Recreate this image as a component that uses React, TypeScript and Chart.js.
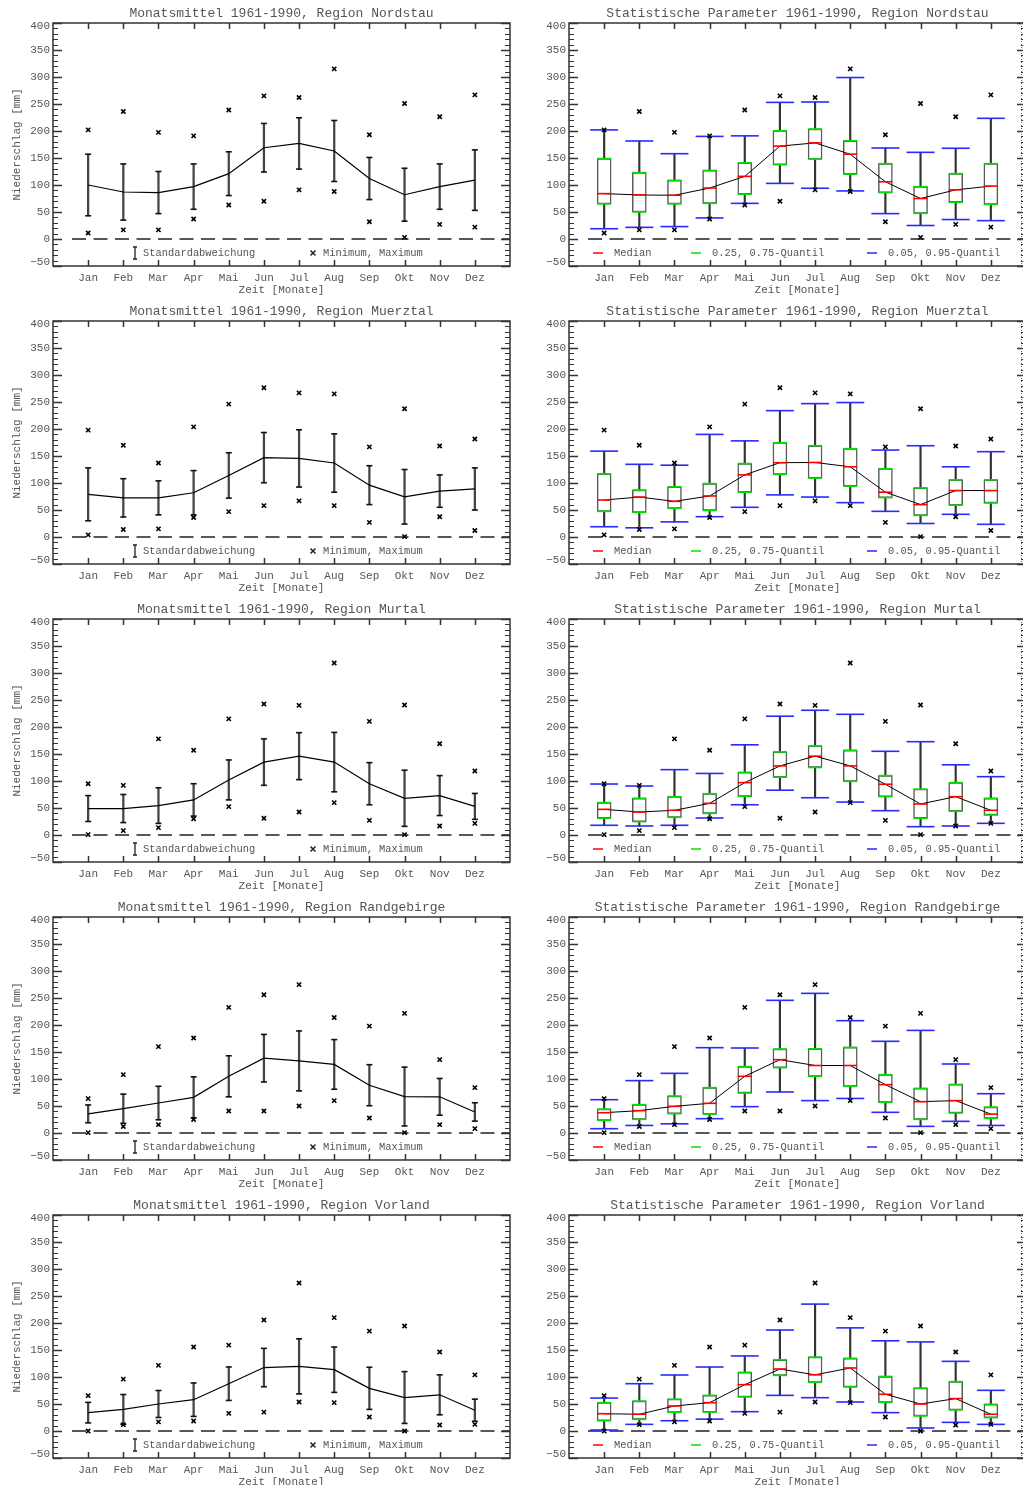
import React, { useEffect, useRef } from 'react';
import { Chart, registerables } from 'chart.js';

Chart.register(...registerables);

const MONTHS = ['Jan', 'Feb', 'Mar', 'Apr', 'Mai', 'Jun', 'Jul', 'Aug', 'Sep', 'Okt', 'Nov', 'Dez'];
const Y_TICKS = [-50, 0, 50, 100, 150, 200, 250, 300, 350, 400];

// ---------- Region Nordstau ----------
const NORDSTAU_MEAN = [100, 87, 86, 97, 121, 169, 177, 163, 112, 82, 97, 109];
const NORDSTAU_SD = [57, 52, 39, 42, 40.5, 45, 47.5, 56.5, 39, 49, 42, 56];
const NORDSTAU_MIN = [11, 17, 17, 37, 63, 70, 91, 88, 32, 3, 27, 22];
const NORDSTAU_MAX = [202, 236, 197.5, 191, 239, 265, 262, 315, 193, 251, 226.5, 267];
const NORDSTAU_P05 = [19, 21.6, 23, 39, 66, 103, 94, 89, 47, 25, 36, 34];
const NORDSTAU_Q25 = [65, 50, 65, 66, 83, 137.6, 148, 120, 86, 47.5, 68, 64];
const NORDSTAU_MED = [84, 81.5, 81, 94.4, 116, 172, 178, 157, 106, 75, 91, 98];
const NORDSTAU_Q75 = [149, 123, 108.6, 127, 141, 200.6, 203.7, 182, 139.5, 97, 121, 139.5];
const NORDSTAU_P95 = [202, 181.5, 158, 190, 191, 253, 253.7, 299, 168.5, 160.5, 168, 223.5];

// ---------- Region Muerztal ----------
const MUERZTAL_MEAN = [79, 72.5, 72.5, 82, 114, 147, 145.5, 137, 96, 74.5, 85, 89];
const MUERZTAL_SD = [49, 35.5, 31.5, 41, 42, 46.5, 53, 54, 36, 50.5, 30, 39];
const MUERZTAL_MIN = [4, 14, 15, 36, 47, 58, 67, 58, 27, 0.6, 37.6, 12];
const MUERZTAL_MAX = [198, 170, 137, 204, 246, 276.5, 267, 265, 167, 237.6, 168.5, 181.5];
const MUERZTAL_P05 = [19, 17, 28, 37.6, 55, 78, 74, 63.6, 47.5, 25, 42, 23.5];
const MUERZTAL_Q25 = [47.5, 45.7, 53, 49, 83, 116, 109, 94, 73, 40, 59, 63];
const MUERZTAL_MED = [68.5, 74, 66, 76, 115, 137.6, 138, 130, 83, 60, 86, 86];
const MUERZTAL_Q75 = [117, 87, 93, 99, 136, 174.7, 169, 163.6, 126.5, 91, 106, 106];
const MUERZTAL_P95 = [159, 134.6, 133, 190, 178, 234, 247, 249, 161, 169, 130, 158];

// ---------- Region Murtal ----------
const MURTAL_MEAN = [49, 49, 54.5, 65, 102, 135, 146, 135, 95, 68, 73, 53];
const MURTAL_SD = [24, 26, 33, 30, 37, 43, 43.5, 55, 39, 52, 37, 24];
const MURTAL_MIN = [0.6, 8, 13.6, 30, 52.5, 31, 42.6, 60, 27, 0.6, 16.7, 21.6];
const MURTAL_MAX = [95, 92, 178, 157, 215, 242.6, 240, 318.5, 210.5, 240.7, 169, 118.5];
const MURTAL_P05 = [18, 16.7, 18, 31.5, 56, 83, 69, 61, 45, 15.4, 16.7, 21.6];
const MURTAL_Q25 = [31, 24.7, 32.7, 40, 71.6, 107, 125, 99.4, 71, 31, 44, 37];
const MURTAL_MED = [47.5, 42.6, 45.7, 58.6, 97, 128, 146, 128, 94, 57.4, 71, 45.7];
const MURTAL_Q75 = [60, 68, 71, 76.5, 116, 154, 165, 157, 110, 85, 97, 68];
const MURTAL_P95 = [94.4, 90.7, 121, 114, 167, 220, 231, 223.5, 155, 172.8, 130, 108];

// ---------- Region Randgebirge ----------
const RAND_MEAN = [35.5, 45, 55.5, 66, 105, 138.5, 133.5, 127, 88.5, 67.5, 67, 39];
const RAND_SD = [16.5, 27, 31, 38, 38, 44, 55.5, 46, 38, 54.5, 34, 17];
const RAND_MIN = [0.6, 12, 15.4, 25, 40.7, 40.7, 50, 60, 27.8, 0.6, 15.4, 8];
const RAND_MAX = [63.6, 108, 160, 176, 232.7, 256, 274.7, 214, 198, 221.6, 135.8, 84];
const RAND_P05 = [8, 14, 17, 26.5, 48.8, 76, 60, 64, 38.3, 12.3, 21.6, 14];
const RAND_Q25 = [23.5, 25.3, 35.8, 35, 74, 121, 105, 86.4, 56.8, 25.3, 37, 27];
const RAND_MED = [37.6, 41.4, 49.4, 55, 105, 135.8, 125, 125, 89.5, 58, 60, 35];
const RAND_Q75 = [44.4, 52.5, 68.5, 84, 123, 155.6, 156, 158.6, 108, 82.7, 90, 48];
const RAND_P95 = [61.7, 97, 110.5, 158, 157.4, 245.7, 258.6, 208, 169.8, 190, 127.8, 72.8];

// ---------- Region Vorland ----------
const VORLAND_MEAN = [34, 40, 50, 58, 87.6, 117.5, 119.7, 113.5, 79, 62, 67, 38.5];
const VORLAND_SD = [19, 27.5, 25, 31, 31, 35.5, 51, 42, 39, 48, 37, 20.5];
const VORLAND_MIN = [0, 11.7, 17, 18.5, 32.7, 35, 53.7, 52.5, 26, 0, 11, 12.3];
const VORLAND_MAX = [65.4, 96, 121.6, 155.6, 159, 205.5, 274, 210, 185, 194.4, 146.3, 104];
const VORLAND_P05 = [1.8, 12.3, 19, 22, 35.8, 66, 61.7, 53.7, 34, 5.6, 16, 12.3];
const VORLAND_Q25 = [19, 21.6, 34.6, 35, 63, 103, 90, 81.5, 53, 27.8, 39, 24.7];
const VORLAND_MED = [32, 31, 46.3, 52.5, 85.8, 114.8, 104, 116.7, 68, 50, 60, 31];
const VORLAND_Q75 = [52.5, 55.5, 59, 66, 108.6, 132, 137, 134.6, 101, 79.6, 91.4, 49.4];
const VORLAND_P95 = [61, 87.6, 103.7, 118.5, 139, 187, 235, 191, 167, 165, 129, 75.3];

const REGIONS = [
  { name: 'Nordstau', mean: NORDSTAU_MEAN, sd: NORDSTAU_SD, min: NORDSTAU_MIN, max: NORDSTAU_MAX, p05: NORDSTAU_P05, q25: NORDSTAU_Q25, med: NORDSTAU_MED, q75: NORDSTAU_Q75, p95: NORDSTAU_P95 },
  { name: 'Muerztal', mean: MUERZTAL_MEAN, sd: MUERZTAL_SD, min: MUERZTAL_MIN, max: MUERZTAL_MAX, p05: MUERZTAL_P05, q25: MUERZTAL_Q25, med: MUERZTAL_MED, q75: MUERZTAL_Q75, p95: MUERZTAL_P95 },
  { name: 'Murtal', mean: MURTAL_MEAN, sd: MURTAL_SD, min: MURTAL_MIN, max: MURTAL_MAX, p05: MURTAL_P05, q25: MURTAL_Q25, med: MURTAL_MED, q75: MURTAL_Q75, p95: MURTAL_P95 },
  { name: 'Randgebirge', mean: RAND_MEAN, sd: RAND_SD, min: RAND_MIN, max: RAND_MAX, p05: RAND_P05, q25: RAND_Q25, med: RAND_MED, q75: RAND_Q75, p95: RAND_P95 },
  { name: 'Vorland', mean: VORLAND_MEAN, sd: VORLAND_SD, min: VORLAND_MIN, max: VORLAND_MAX, p05: VORLAND_P05, q25: VORLAND_Q25, med: VORLAND_MED, q75: VORLAND_Q75, p95: VORLAND_P95 },
];

const FONT = "'Liberation Mono', 'DejaVu Sans Mono', monospace";
const TEXT = '#555555';
const ROW_H = 298;

const pts = (arr: number[]) => arr.map((v, i) => ({ x: i + 1, y: v }));

function framePlugin(title: string, isStat: boolean) {
  return {
    id: 'frame',
    beforeDatasetsDraw(chart: any) {
      const { ctx, chartArea: a, scales } = chart;
      const y0 = scales.y.getPixelForValue(0);
      ctx.save();
      ctx.strokeStyle = '#222';
      ctx.lineWidth = 1.5;
      ctx.setLineDash([14, 7.5]);
      ctx.beginPath();
      ctx.moveTo(a.left + 19, y0);
      ctx.lineTo(a.right, y0);
      ctx.stroke();
      ctx.restore();
    },
    afterDatasetsDraw(chart: any) {
      const { ctx, chartArea: a, scales } = chart;
      const x = scales.x;
      const y = scales.y;
      ctx.save();
      // frame
      ctx.strokeStyle = '#333';
      ctx.lineWidth = 1.5;
      ctx.strokeRect(a.left, a.top, a.right - a.left, a.bottom - a.top);
      // y ticks (inward, both sides)
      for (let v = -50; v <= 400; v += 10) {
        const py = Math.round(y.getPixelForValue(v)) + 0.5;
        const major = v % 50 === 0;
        const len = major ? 9 : 5;
        ctx.lineWidth = major ? 1.5 : 1;
        ctx.beginPath();
        ctx.moveTo(a.left, py);
        ctx.lineTo(a.left + len, py);
        ctx.moveTo(a.right, py);
        ctx.lineTo(a.right - len, py);
        ctx.stroke();
      }
      // x ticks (inward, top and bottom)
      ctx.lineWidth = 1.5;
      ctx.beginPath();
      for (let m = 1; m <= 12; m++) {
        const px = Math.round(x.getPixelForValue(m)) + 0.5;
        ctx.moveTo(px, a.bottom);
        ctx.lineTo(px, a.bottom - 6);
        ctx.moveTo(px, a.top);
        ctx.lineTo(px, a.top + 6);
      }
      ctx.stroke();

      // y tick labels (end labels kept inside the frame)
      ctx.fillStyle = TEXT;
      ctx.font = `11px ${FONT}`;
      ctx.textAlign = 'right';
      ctx.textBaseline = 'middle';
      for (const v of Y_TICKS) {
        const py = Math.min(Math.max(y.getPixelForValue(v), a.top + 3), a.bottom - 3.5);
        ctx.fillText(String(v).replace('-', '\u2212'), a.left - 3, py);
      }

      // title
      ctx.font = `13px ${FONT}`;
      ctx.textAlign = 'center';
      ctx.fillText(title, (a.left + a.right) / 2, 14);

      // legend
      const ly = 253;
      ctx.font = `10.4px ${FONT}`;
      ctx.textAlign = 'left';
      ctx.textBaseline = 'middle';
      if (!isStat) {
        ctx.strokeStyle = '#222';
        ctx.lineWidth = 1.3;
        ctx.beginPath();
        ctx.moveTo(135, ly - 6);
        ctx.lineTo(135, ly + 6);
        ctx.moveTo(133, ly - 6);
        ctx.lineTo(137, ly - 6);
        ctx.moveTo(133, ly + 6);
        ctx.lineTo(137, ly + 6);
        ctx.stroke();
        ctx.fillText('Standardabweichung', 143, ly);
        ctx.lineWidth = 1.5;
        ctx.beginPath();
        ctx.moveTo(310.5, ly - 2.5);
        ctx.lineTo(315.5, ly + 2.5);
        ctx.moveTo(315.5, ly - 2.5);
        ctx.lineTo(310.5, ly + 2.5);
        ctx.stroke();
        ctx.fillText('Minimum, Maximum', 323, ly);
      } else {
        const items = [
          { c: '#ff0000', x: 81, t: 'Median', tx: 102 },
          { c: '#00e000', x: 179, t: '0.25, 0.75-Quantil', tx: 200 },
          { c: '#2a2aff', x: 355, t: '0.05, 0.95-Quantil', tx: 376 },
        ];
        for (const it of items) {
          ctx.strokeStyle = it.c;
          ctx.lineWidth = 1.5;
          ctx.beginPath();
          ctx.moveTo(it.x, ly);
          ctx.lineTo(it.x + 10, ly);
          ctx.stroke();
          ctx.fillStyle = TEXT;
          ctx.fillText(it.t, it.tx, ly);
        }
        // dotted edge line
        ctx.strokeStyle = '#666';
        ctx.lineWidth = 1;
        ctx.setLineDash([1, 2]);
        ctx.beginPath();
        ctx.moveTo(509.5, a.top);
        ctx.lineTo(509.5, a.bottom);
        ctx.stroke();
      }
      ctx.restore();
    },
  };
}

function buildConfig(kind: string, r: any) {
  const isStat = kind === 'stat';
  const crosses = {
    type: 'scatter',
    data: [...pts(r.min), ...pts(r.max)],
    pointStyle: 'crossRot',
    pointRadius: 3,
    pointBorderWidth: 1.6,
    pointBorderColor: '#000',
    borderColor: '#000',
    order: 0,
  };
  let datasets: any[];
  if (isStat) {
    datasets = [
      crosses,
      {
        type: 'scatter',
        data: pts(r.med),
        pointStyle: 'line',
        pointRadius: 7,
        pointBorderWidth: 1.6,
        pointBorderColor: '#ff0000',
        borderColor: '#ff0000',
        order: 1,
      },
      {
        type: 'line',
        data: pts(r.med),
        borderColor: '#000',
        borderWidth: 1,
        pointRadius: 0,
        tension: 0,
        order: 2,
      },
      {
        type: 'scatter',
        data: [...pts(r.q25), ...pts(r.q75)],
        pointStyle: 'line',
        pointRadius: 7,
        pointBorderWidth: 1.6,
        pointBorderColor: '#00e000',
        borderColor: '#00e000',
        order: 3,
      },
      {
        type: 'scatter',
        data: [...pts(r.p05), ...pts(r.p95)],
        pointStyle: 'line',
        pointRadius: 14,
        pointBorderWidth: 1.6,
        pointBorderColor: '#2a2aff',
        borderColor: '#2a2aff',
        order: 3,
      },
      {
        type: 'bar',
        data: r.q25.map((v: number, i: number) => ({ x: i + 1, y: [v, r.q75[i]] })),
        barThickness: 14,
        backgroundColor: '#ffffff',
        borderColor: '#5a5a5a',
        borderWidth: 1.5,
        borderSkipped: false,
        grouped: false,
        order: 5,
      },
      {
        type: 'bar',
        data: r.p05.map((v: number, i: number) => ({ x: i + 1, y: [v, r.p95[i]] })),
        barThickness: 1.5,
        backgroundColor: '#333',
        borderWidth: 0,
        grouped: false,
        order: 6,
      },
    ];
  } else {
    const hi = r.mean.map((m: number, i: number) => m + r.sd[i]);
    const lo = r.mean.map((m: number, i: number) => m - r.sd[i]);
    datasets = [
      crosses,
      {
        type: 'line',
        data: pts(r.mean),
        borderColor: '#000',
        borderWidth: 1.2,
        pointRadius: 0,
        tension: 0,
        order: 1,
      },
      {
        type: 'scatter',
        data: [...pts(hi), ...pts(lo)],
        pointStyle: 'line',
        pointRadius: 3,
        pointBorderWidth: 1.6,
        pointBorderColor: '#111',
        borderColor: '#111',
        order: 2,
      },
      {
        type: 'bar',
        data: lo.map((v: number, i: number) => ({ x: i + 1, y: [v, hi[i]] })),
        barThickness: 1.6,
        backgroundColor: '#444',
        borderWidth: 0,
        grouped: false,
        order: 3,
      },
    ];
  }

  const title = isStat
    ? `Statistische Parameter 1961-1990, Region ${r.name}`
    : `Monatsmittel 1961-1990, Region ${r.name}`;

  return {
    type: 'scatter',
    data: { datasets },
    options: {
      animation: false,
      responsive: false,
      maintainAspectRatio: false,
      events: [],
      plugins: {
        legend: { display: false },
        tooltip: { enabled: false },
        title: { display: false },
      },
      layout: { autoPadding: false, padding: { top: 23, right: 2, left: 0, bottom: 0 } },
      scales: {
        x: {
          type: 'linear',
          min: 0,
          max: 13,
          offset: false,
          afterBuildTicks: (s: any) => {
            s.ticks = MONTHS.map((_, i) => ({ value: i + 1 }));
          },
          ticks: {
            callback: (v: any) => MONTHS[Math.round(v) - 1] ?? '',
            font: { family: FONT, size: 11 },
            color: TEXT,
            padding: 5,
            maxRotation: 0,
            autoSkip: false,
          },
          grid: { display: false, drawTicks: false },
          border: { display: false },
          title: {
            display: true,
            text: 'Zeit [Monate]',
            font: { family: FONT, size: 11 },
            color: TEXT,
            padding: { top: 0, bottom: 1.4 },
          },
          afterFit: (s: any) => {
            s.height = 32;
            s.paddingLeft = 0;
            s.paddingRight = 0;
          },
        },
        y: {
          type: 'linear',
          min: -50,
          max: 400,
          ticks: {
            stepSize: 50,
            display: false,
          },
          grid: { display: false, drawTicks: false },
          border: { display: false },
          title: isStat
            ? { display: false }
            : {
                display: true,
                text: 'Niederschlag [mm]',
                font: { family: FONT, size: 11 },
                color: TEXT,
                padding: { top: 10.4, bottom: 0 },
              },
          afterFit: (s: any) => {
            s.width = isStat ? 57 : 53;
            s.paddingTop = 0;
            s.paddingBottom = 0;
          },
        },
      },
    },
    plugins: [framePlugin(title, isStat)],
  };
}

function Panel({ kind, region, left, top }: any) {
  const ref = useRef<HTMLCanvasElement | null>(null);
  const w = kind === 'stat' ? 516 : 512;
  useEffect(() => {
    if (!ref.current) return;
    const chart = new Chart(ref.current, buildConfig(kind, region) as any);
    return () => chart.destroy();
  }, [kind, region]);
  return (
    <canvas
      ref={ref}
      width={w}
      height={ROW_H}
      style={{ position: 'absolute', left, top, width: w, height: ROW_H, display: 'block' }}
    />
  );
}

export default function App() {
  return (
    <div
      style={{
        position: 'absolute',
        left: 0,
        top: 0,
        width: 1023,
        height: 1485,
        overflow: 'hidden',
        background: '#ffffff',
      }}
    >
      {REGIONS.map((r, i) => (
        <React.Fragment key={r.name}>
          <Panel kind="mean" region={r} left={0} top={i * ROW_H} />
          <Panel kind="stat" region={r} left={512} top={i * ROW_H} />
        </React.Fragment>
      ))}
    </div>
  );
}
